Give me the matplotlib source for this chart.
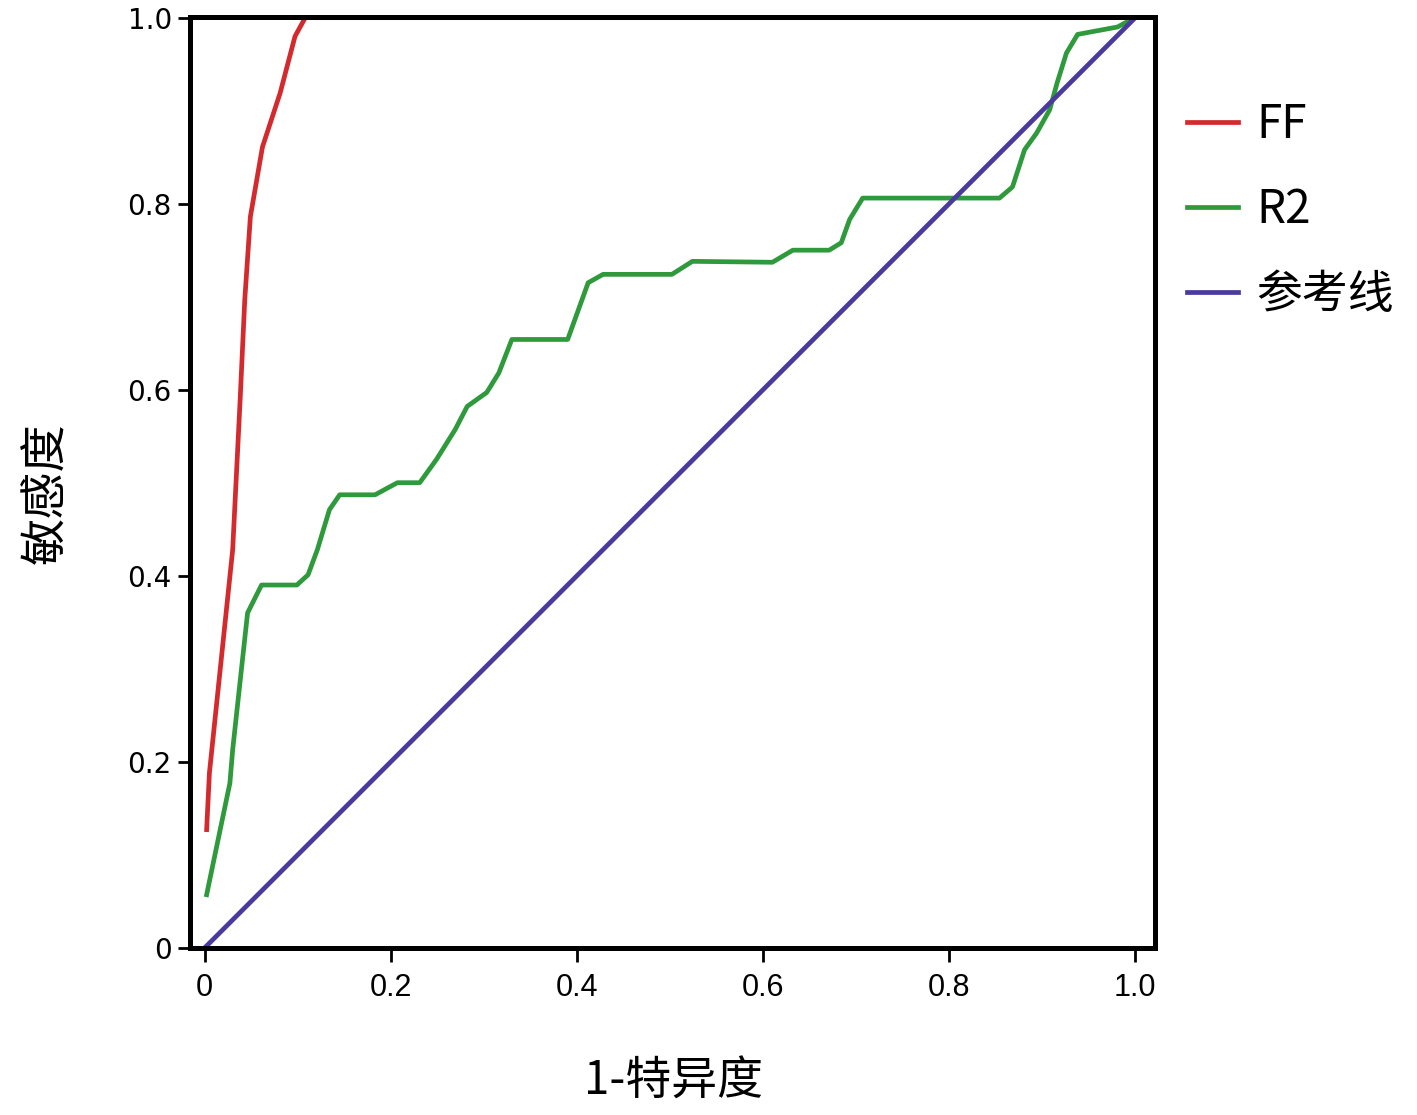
import matplotlib
matplotlib.use("Agg")
import matplotlib.pyplot as plt
import numpy as np

# ROC curve values
ff_x = [0.002, 0.005, 0.030, 0.038, 0.043, 0.049, 0.062, 0.081, 0.097, 0.108, 1.0]
ff_y = [0.127, 0.188, 0.428, 0.589, 0.697, 0.786, 0.861, 0.919, 0.980, 1.0, 1.0]

r2_x = [0.002, 0.027, 0.030, 0.046, 0.061, 0.099, 0.111, 0.121, 0.134, 0.145, 0.183,
        0.207, 0.231, 0.249, 0.269, 0.282, 0.303, 0.316, 0.330, 0.390, 0.412, 0.428,
        0.502, 0.524, 0.610, 0.632, 0.671, 0.684, 0.693, 0.707, 0.854, 0.868, 0.881,
        0.894, 0.908, 0.916, 0.926, 0.938, 0.954, 0.965, 0.981, 0.992, 0.998]
r2_y = [0.057, 0.177, 0.213, 0.360, 0.390, 0.390, 0.401, 0.428, 0.471, 0.487, 0.487,
        0.500, 0.500, 0.525, 0.557, 0.582, 0.597, 0.618, 0.654, 0.654, 0.715, 0.724,
        0.724, 0.738, 0.737, 0.750, 0.750, 0.758, 0.783, 0.806, 0.806, 0.818, 0.858,
        0.876, 0.901, 0.930, 0.962, 0.982, 0.985, 0.987, 0.990, 0.996, 1.0]

ref_x = [0.0, 1.0]
ref_y = [0.0, 1.0]

labels = ["FF", "R2", "参考线"]
xticks = [0, 0.2, 0.4, 0.6, 0.8, 1.0]
xtick_labels = ["0", "0.2", "0.4", "0.6", "0.8", "1.0"]
yticks = [0, 0.2, 0.4, 0.6, 0.8, 1.0]
ytick_labels = ["0", "0.2", "0.4", "0.6", "0.8", "1.0"]

cjk = ["Noto Sans CJK SC", "DejaVu Sans"]

fig = plt.figure(figsize=(14.17, 11.15), dpi=100)
ax = fig.add_axes([0.134, 0.150, 0.681, 0.835])

lw = 3.4
ax.plot(ff_x, ff_y, color="#d42a2e", lw=lw, label=labels[0])
ax.plot(r2_x, r2_y, color="#2e9a3c", lw=lw, label=labels[1])
ax.plot(ref_x, ref_y, color="#4a3a9e", lw=lw, label=labels[2])

ax.set_xlim(-0.016, 1.021)
ax.set_ylim(0, 1.001)

for s in ax.spines.values():
    s.set_linewidth(3.6)
    s.set_color("black")

ax.set_xticks(xticks)
ax.set_xticklabels(xtick_labels, family=["Liberation Sans", "DejaVu Sans"], fontsize=22)
ax.set_yticks(yticks)
ax.set_yticklabels(ytick_labels, family="DejaVu Sans", fontsize=20)
ax.tick_params(axis="x", direction="out", length=10, width=2, pad=8)
ax.tick_params(axis="y", direction="out", length=9, width=2, pad=4)

fig.text(0.475, 0.030, "1-特异度", family=cjk, fontsize=33, ha="center", va="center")
fig.text(0.033, 0.558, "敏感度", family=cjk, fontsize=34, ha="center", va="center",
         rotation=90)

fig.legend(loc="center left", bbox_to_anchor=(0.838, 0.812), frameon=False,
           prop={"family": cjk, "size": 33}, handlelength=1.1, handletextpad=0.4,
           labelspacing=0.8, borderpad=0, borderaxespad=0)

plt.savefig("out.png", dpi=100)
